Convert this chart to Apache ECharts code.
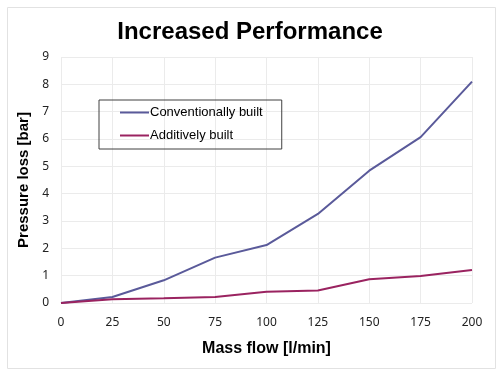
<!DOCTYPE html>
<html>
<head>
<meta charset="utf-8">
<script src="https://cdn.jsdelivr.net/npm/echarts@6/dist/echarts.min.js"></script>
<style>html,body{margin:0;padding:0;background:#fff}#c{width:500px;height:372px}</style>
</head>
<body>
<div id="c"></div>
<script>
var massFlow = [0, 25, 50, 75, 100, 125, 150, 175, 200];
var conventional = [0, 0.22, 0.83, 1.66, 2.12, 3.26, 4.84, 6.07, 8.1];
var additive = [0, 0.14, 0.17, 0.22, 0.41, 0.46, 0.87, 0.99, 1.21];
var seriesNames = ['Conventionally built', 'Additively built'];
var titleText = 'Increased Performance';
var xName = 'Mass flow [l/min]';
var yName = 'Pressure loss [bar]';

function pairs(xs, ys) { return xs.map(function (x, i) { return [x, ys[i]]; }); }

var chart = echarts.init(document.getElementById('c'), null, {renderer: 'canvas'});
chart.setOption({
  backgroundColor: '#fff',
  animation: false,
  graphic: [{
    type: 'rect', left: 5, top: 5,
    shape: {width: 488, height: 361},
    style: {fill: 'none', stroke: '#e2e2e2', lineWidth: 1},
    silent: true
  }],
  title: {
    text: titleText, left: 'center', top: 15,
    textStyle: {fontFamily: 'Liberation Sans', fontWeight: 'bold', fontSize: 24, color: '#000'}
  },
  grid: {left: 61, right: 28, top: 57, bottom: 69},
  legend: {
    orient: 'vertical', left: 99, top: 100,
    data: seriesNames,
    icon: 'rect', itemWidth: 29, itemHeight: 2, itemGap: 10,
    padding: [6, 19, 7, 21],
    borderColor: '#404040', borderWidth: 1,
    textStyle: {fontFamily: 'Liberation Sans', fontSize: 13, color: '#000', padding: [0, 0, 0, -4]}
  },
  xAxis: {
    type: 'value', min: 0, max: 200, interval: 25,
    name: xName, nameLocation: 'middle', nameGap: 38,
    nameTextStyle: {fontFamily: 'Liberation Sans', fontWeight: 'bold', fontSize: 16, color: '#000'},
    axisLine: {show: false}, axisTick: {show: false},
    axisLabel: {margin: 14, fontFamily: 'Noto Sans', fontSize: 12, color: '#222'},
    splitLine: {show: true, lineStyle: {color: '#ebebeb', width: 1}}
  },
  yAxis: {
    type: 'value', min: 0, max: 9, interval: 1,
    name: yName, nameLocation: 'middle', nameGap: 28,
    nameTextStyle: {fontFamily: 'Liberation Sans', fontWeight: 'bold', fontSize: 15, color: '#000'},
    axisLine: {show: false}, axisTick: {show: false},
    axisLabel: {margin: 12, fontFamily: 'Noto Sans', fontSize: 12, color: '#222'},
    splitLine: {show: true, lineStyle: {color: '#ebebeb', width: 1}}
  },
  series: [
    {name: seriesNames[0], type: 'line', data: pairs(massFlow, conventional), symbol: 'none',
     lineStyle: {color: '#5a5a9a', width: 2}, itemStyle: {color: '#5a5a9a'}},
    {name: seriesNames[1], type: 'line', data: pairs(massFlow, additive), symbol: 'none',
     lineStyle: {color: '#9a2360', width: 2}, itemStyle: {color: '#9a2360'}}
  ]
});
</script>
</body>
</html>
